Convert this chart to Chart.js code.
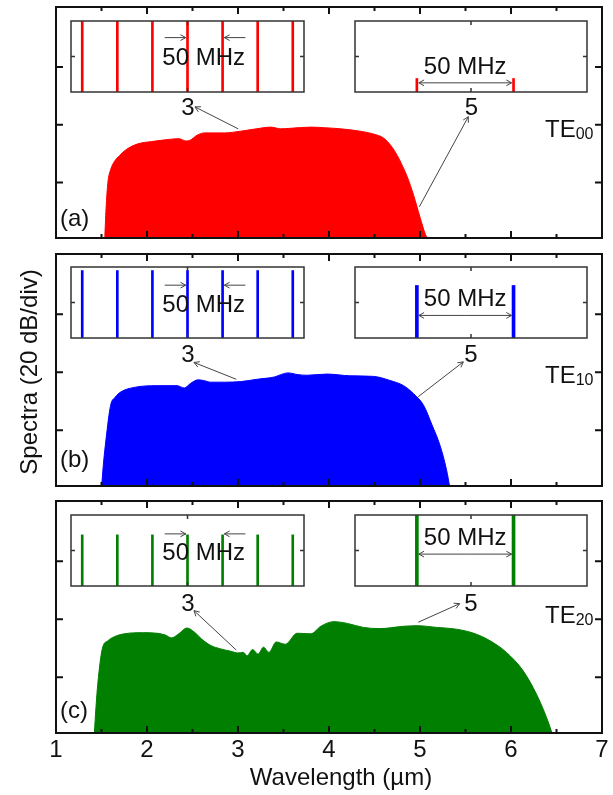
<!DOCTYPE html>
<html>
<head>
<meta charset="utf-8">
<script src="https://cdn.jsdelivr.net/npm/chart.js@4.4.0/dist/chart.umd.min.js"></script>
<style>
body { margin: 0; background: #fff; }
#fig { position: relative; width: 613px; height: 795px; }
canvas { position: absolute; }
</style>
</head>
<body>
<div id="fig"></div>
<script>
// axes
const xTicks = [1, 2, 3, 4, 5, 6, 7]
const xMinor = [1.5, 2.5, 3.5, 4.5, 5.5, 6.5]
const yTicks = [1, 2, 3]

// spectra (wavelength in um, level in 20 dB divisions)
const wlA = [1.535, 1.55, 1.57, 1.60, 1.64, 1.70, 1.77, 1.90, 2.05, 2.20, 2.35, 2.43, 2.47, 2.55, 2.63, 2.85, 3.03, 3.20, 3.36, 3.47, 3.58, 3.80, 3.95, 4.13, 4.34, 4.49, 4.60, 4.68, 4.75, 4.81, 4.86, 4.93, 5.00, 5.06, 5.09]
const specA = [0, 0.55, 1.00, 1.22, 1.36, 1.47, 1.57, 1.67, 1.71, 1.74, 1.76, 1.72, 1.73, 1.82, 1.86, 1.86, 1.89, 1.93, 1.96, 1.93, 1.94, 1.96, 1.95, 1.93, 1.89, 1.84, 1.77, 1.64, 1.47, 1.28, 1.10, 0.78, 0.40, 0.10, 0]

const wlB = [1.50, 1.52, 1.55, 1.60, 1.65, 1.71, 1.86, 2.11, 2.33, 2.41, 2.48, 2.56, 2.62, 2.70, 2.85, 3.03, 3.21, 3.32, 3.40, 3.47, 3.55, 3.66, 3.76, 3.98, 4.23, 4.49, 4.67, 4.82, 4.93, 5.04, 5.13, 5.22, 5.29, 5.33]
const specB = [0, 0.40, 0.85, 1.43, 1.57, 1.66, 1.74, 1.77, 1.77, 1.73, 1.81, 1.87, 1.86, 1.83, 1.83, 1.84, 1.88, 1.90, 1.92, 1.96, 1.99, 1.96, 1.95, 1.97, 1.94, 1.93, 1.86, 1.77, 1.63, 1.43, 1.10, 0.74, 0.33, 0]

const wlC = [1.42, 1.44, 1.46, 1.51, 1.57, 1.64, 1.75, 1.95, 2.11, 2.20, 2.27, 2.34, 2.44, 2.52, 2.60, 2.70, 2.81, 2.92, 3.00, 3.06, 3.10, 3.16, 3.22, 3.28, 3.34, 3.42, 3.52, 3.65, 3.80, 3.91, 4.05, 4.20, 4.38, 4.56, 4.82, 4.97, 5.19, 5.40, 5.59, 5.77, 5.95, 6.13, 6.28, 6.39, 6.46]
const specC = [0, 0.50, 0.90, 1.50, 1.63, 1.70, 1.75, 1.77, 1.76, 1.73, 1.68, 1.74, 1.85, 1.78, 1.66, 1.55, 1.49, 1.45, 1.42, 1.43, 1.37, 1.48, 1.40, 1.52, 1.43, 1.61, 1.57, 1.76, 1.75, 1.88, 1.96, 1.93, 1.86, 1.84, 1.88, 1.89, 1.86, 1.83, 1.76, 1.63, 1.43, 1.12, 0.71, 0.31, 0]

// insets: comb line positions (left in line spacings, right in MHz) and heights
const combLeft = [-3, -2, -1, 0, 1, 2, 3]
const combRight = [-28, 22]
const combHeightLeft = [1, 0.95, 0.72]
const combHeightRight = [0.19, 0.74, 1]

const W = 613, H = 795
const FONT = '"Liberation Sans", Arial, sans-serif'
const fig = document.getElementById("fig")

const panels = [
    { letter: "(a)", mode: "00", color: "#ff0000", wl: wlA, spec: specA, top: 7, bottom: 238,
      letterAt: [1.044, 0.25], teAt: [6.374, 1.79], lab3: [2.451, 2.17], arr3: [3.003, 1.93, 2.527, 2.31],
      lab5: [5.566, 2.17], arr5: [4.992, 0.58, 5.531, 2.14],
      boxL: [71, 21, 304, 92], boxR: [355, 21, 587, 92], thickL: 2, thickR: 2,
      txtL: 0.386, arrL: 0.766, txtR: 0.249, arrR: 0.129 },
    { letter: "(b)", mode: "10", color: "#0000ff", wl: wlB, spec: specB, top: 254, bottom: 486,
      letterAt: [1.044, 0.37], teAt: [6.374, 1.82], lab3: [2.451, 2.18], arr3: [2.981, 1.88, 2.516, 2.17],
      lab5: [5.560, 2.18], arr5: [4.981, 1.58, 5.476, 2.18],
      boxL: [71, 267, 304, 338], boxR: [355, 267, 587, 338], thickL: 2, thickR: 3,
      txtL: 0.363, arrL: 0.744, txtR: 0.455, arrR: 0.318 },
    { letter: "(c)", mode: "20", color: "#007f00", wl: wlC, spec: specC, top: 501, bottom: 733,
      letterAt: [1.044, 0.30], teAt: [6.374, 1.94], lab3: [2.451, 2.15], arr3: [2.981, 1.47, 2.516, 2.15],
      lab5: [5.560, 2.14], arr5: [4.981, 1.95, 5.436, 2.27],
      boxL: [71, 515, 304, 586], boxR: [355, 515, 587, 586], thickL: 2, thickR: 3,
      txtL: 0.367, arrL: 0.734, txtR: 0.58, arrR: 0.449 }
]

function addCanvas(l, t, w, h) {
    const c = document.createElement("canvas")
    c.width = w
    c.height = h
    c.style.left = l + "px"
    c.style.top = t + "px"
    fig.appendChild(c)
    return c
}

function arrow(ctx, x1, y1, x2, y2, head) {
    const a = Math.atan2(y2 - y1, x2 - x1)
    ctx.beginPath()
    ctx.moveTo(x1, y1)
    ctx.lineTo(x2, y2)
    ctx.moveTo(x2 - head * Math.cos(a - 0.5), y2 - head * Math.sin(a - 0.5))
    ctx.lineTo(x2, y2)
    ctx.lineTo(x2 - head * Math.cos(a + 0.5), y2 - head * Math.sin(a + 0.5))
    ctx.stroke()
}

function mainChart(p, last) {
    const cv = addCanvas(0, 0, W, H)
    const decor = {
        id: "decor",
        afterDatasetsDraw(chart) {
            const { ctx, chartArea: a, scales } = chart
            const px = v => scales.x.getPixelForValue(v)
            const py = v => scales.y.getPixelForValue(v)
            ctx.save()
            ctx.strokeStyle = "#111"
            ctx.lineWidth = 2
            ctx.strokeRect(a.left, a.top, a.right - a.left, a.bottom - a.top)
            ctx.beginPath()
            xTicks.forEach(v => {
                ctx.moveTo(px(v), a.top); ctx.lineTo(px(v), a.top + 7)
                ctx.moveTo(px(v), a.bottom); ctx.lineTo(px(v), a.bottom - 7)
            })
            xMinor.forEach(v => {
                ctx.moveTo(px(v), a.top); ctx.lineTo(px(v), a.top + 4)
                ctx.moveTo(px(v), a.bottom); ctx.lineTo(px(v), a.bottom - 4)
            })
            yTicks.forEach(v => {
                ctx.moveTo(a.left, py(v)); ctx.lineTo(a.left + 7, py(v))
                ctx.moveTo(a.right, py(v)); ctx.lineTo(a.right - 7, py(v))
            })
            ctx.stroke()

            // arrows to the marked points
            ctx.strokeStyle = "#444"
            ctx.lineWidth = 1
            arrow(ctx, px(p.arr3[0]), py(p.arr3[1]), px(p.arr3[2]), py(p.arr3[3]), 6)
            arrow(ctx, px(p.arr5[0]), py(p.arr5[1]), px(p.arr5[2]), py(p.arr5[3]), 6)

            ctx.fillStyle = "#111"
            ctx.font = "24px " + FONT
            ctx.textBaseline = "alphabetic"
            ctx.textAlign = "left"
            ctx.fillText(p.letter, px(p.letterAt[0]), py(p.letterAt[1]))
            const tx = px(p.teAt[0]), ty = py(p.teAt[1])
            ctx.fillText("TE", tx, ty)
            const tw = ctx.measureText("TE").width
            ctx.font = "16px " + FONT
            ctx.fillText(p.mode, tx + tw, ty + 2)
            ctx.font = "24px " + FONT
            ctx.textAlign = "center"
            ctx.fillText("3", px(p.lab3[0]), py(p.lab3[1]))
            ctx.fillText("5", px(p.lab5[0]), py(p.lab5[1]))

            if (last) {
                xTicks.forEach(v => ctx.fillText(String(v), px(v), a.bottom + 24))
                ctx.fillText("Wavelength (µm)", 341, 785)
                ctx.translate(37, 372)
                ctx.rotate(-Math.PI / 2)
                ctx.fillText("Spectra (20 dB/div)", 0, 0)
            }
            ctx.restore()
        }
    }

    new Chart(cv, {
        type: "line",
        data: {
            datasets: [{
                data: p.wl.map((x, i) => ({ x, y: p.spec[i] })),
                borderColor: p.color,
                backgroundColor: p.color,
                borderWidth: 1,
                fill: "start",
                pointRadius: 0,
                cubicInterpolationMode: "monotone"
            }]
        },
        options: {
            animation: false,
            responsive: false,
            devicePixelRatio: 1,
            layout: { padding: { left: 56, right: W - 602, top: p.top, bottom: H - p.bottom } },
            plugins: { legend: { display: false }, tooltip: { enabled: false } },
            scales: {
                x: { type: "linear", min: 1, max: 7, display: false },
                y: { min: 0.04, max: 4.04, display: false }
            }
        },
        plugins: [decor]
    })
}

function insetChart(p, i, left) {
    const box = left ? p.boxL : p.boxR
    const pad = 3
    const cv = addCanvas(box[0] - pad, box[1] - pad, box[2] - box[0] + 2 * pad, box[3] - box[1] + 2 * pad)
    const xs = left ? combLeft : combRight
    const h = left ? combHeightLeft[i] : combHeightRight[i]
    const xMin = left ? -3.32 : -60, xMax = left ? 3.32 : 60

    const decor = {
        id: "insetDecor",
        afterDatasetsDraw(chart) {
            const { ctx, chartArea: a, scales } = chart
            const px = v => scales.x.getPixelForValue(v)
            const py = v => scales.y.getPixelForValue(v)
            ctx.save()
            ctx.strokeStyle = "#333"
            ctx.lineWidth = 1.5
            ctx.strokeRect(a.left, a.top, a.right - a.left, a.bottom - a.top)
            ctx.beginPath()
            ctx.moveTo(px(0), a.top); ctx.lineTo(px(0), a.top + 4)
            ctx.moveTo(px(0), a.bottom); ctx.lineTo(px(0), a.bottom - 4)
            ctx.moveTo(a.left, py(0.5)); ctx.lineTo(a.left + 4, py(0.5))
            ctx.moveTo(a.right, py(0.5)); ctx.lineTo(a.right - 4, py(0.5))
            ctx.stroke()

            ctx.lineWidth = 1
            ctx.strokeStyle = "#444"
            ctx.fillStyle = "#111"
            ctx.font = "24px " + FONT
            ctx.textAlign = "center"
            if (left) {
                arrow(ctx, px(-0.65), py(p.arrL), px(-0.05), py(p.arrL), 6)
                arrow(ctx, px(1.65), py(p.arrL), px(1.05), py(p.arrL), 6)
                ctx.fillText("50 MHz", px(0.46), py(p.txtL))
            } else {
                const yy = py(p.arrR)
                arrow(ctx, px(-3), yy, px(combRight[0] + 1), yy, 6)
                arrow(ctx, px(-3), yy, px(combRight[1] - 1), yy, 6)
                ctx.fillText("50 MHz", px(-3), py(p.txtR))
            }
            ctx.restore()
        }
    }

    new Chart(cv, {
        type: "bar",
        data: {
            datasets: [{
                data: xs.map(x => ({ x, y: h })),
                backgroundColor: p.color,
                borderWidth: 0,
                barThickness: left ? p.thickL : p.thickR
            }]
        },
        options: {
            animation: false,
            responsive: false,
            devicePixelRatio: 1,
            layout: { padding: pad },
            plugins: { legend: { display: false }, tooltip: { enabled: false } },
            scales: {
                x: { type: "linear", min: xMin, max: xMax, offset: false, display: false },
                y: { min: 0, max: 1, display: false }
            }
        },
        plugins: [decor]
    })
}

panels.forEach((p, i) => {
    mainChart(p, i === panels.length - 1)
    insetChart(p, i, true)
    insetChart(p, i, false)
})
</script>
</body>
</html>
